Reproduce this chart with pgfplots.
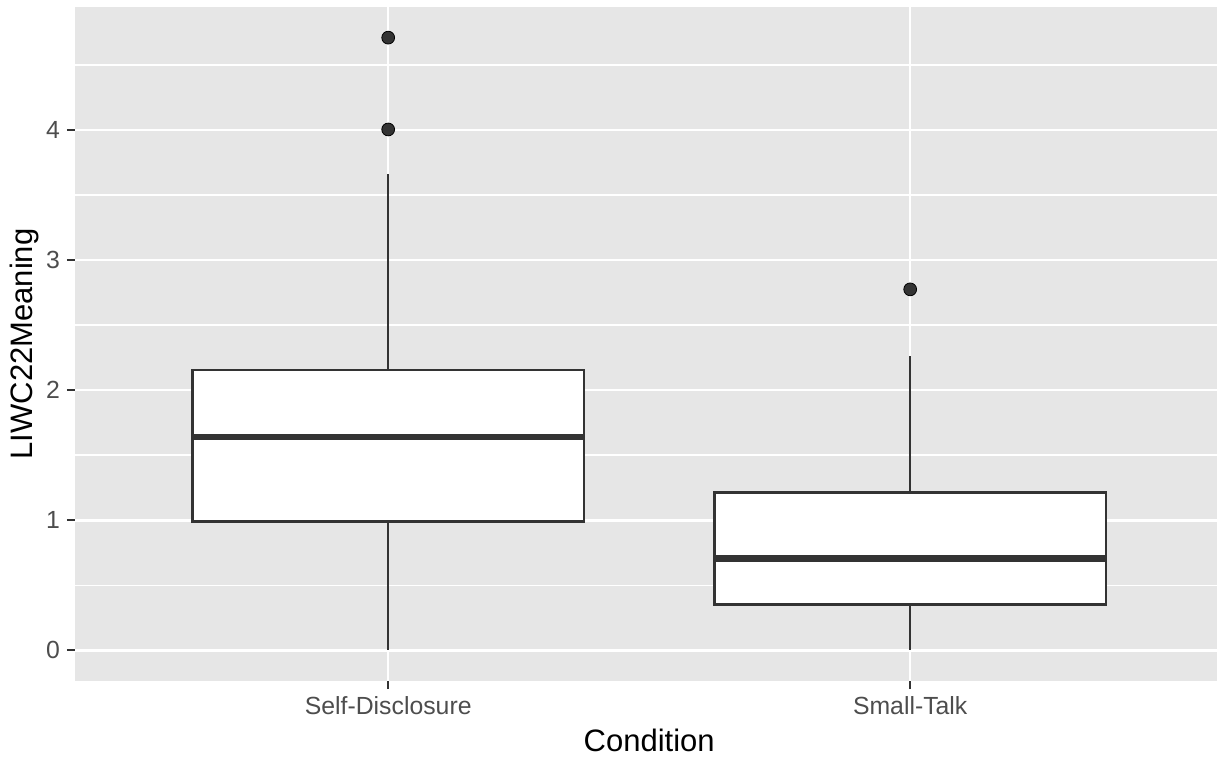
\documentclass[border=0pt]{standalone}
\usepackage{pgfplots}
\pgfplotsset{compat=1.18}
\usepgfplotslibrary{statistics}
\usepackage{fontspec}
\setmainfont{Liberation Sans}
\definecolor{panelbg}{HTML}{E6E6E6}
\definecolor{gtwenty}{HTML}{333333}
\definecolor{gthirty}{HTML}{4D4D4D}
\begin{document}
\begin{tikzpicture}
\useasboundingbox (-37.5pt,-37.5pt) rectangle (571pt,340.5pt);
\begin{axis}[
  at={(0pt,0pt)}, anchor=south west,
  scale only axis,
  width=574.2pt, height=337pt,
  xmin=0.4, xmax=2.6,
  ymin=-0.2355, ymax=4.9455,
  axis x line*=bottom, axis y line*=left,
  axis line style={draw=none},
  axis background/.style={fill=panelbg},
  xtick={1,2},
  xticklabels={Self-Disclosure, Small-Talk},
  ytick={0,1,2,3,4},
  minor ytick={0.5,1.5,2.5,3.5,4.5},
  xmajorgrids, ymajorgrids, yminorgrids,
  major grid style={white, line width=1.3pt},
  minor grid style={white, line width=0.75pt},
  tick align=outside,
  major tick length=4pt,
  minor tick length=0pt,
  tick style={gtwenty, line width=1.1pt},
  /pgf/number format/assume math mode=true,
  tick label style={font=\fontsize{12.4}{14}\selectfont, text=gthirty},
  xlabel={Condition},
  ylabel={LIWC22Meaning},
  label style={font=\fontsize{15.5}{18}\selectfont, text=black},
  x label style={at={(axis description cs:0.5,0)}, anchor=base, yshift=-35pt},
  y label style={at={(axis description cs:0,0.5)}, anchor=base, yshift=21pt},
  boxplot/draw direction=y,
  boxplot/box extend=0.75,
  boxplot/whisker extend=0,
  boxplot/every box/.style={draw=gtwenty, fill=white, line width=1.35pt},
  boxplot/every whisker/.style={draw=gtwenty, line width=1.3pt},
  boxplot/every median/.style={draw=gtwenty, line width=3.2pt},
  clip=false,
]
\addplot[boxplot prepared={draw position=1, lower whisker=0, lower quartile=0.99, median=1.64, upper quartile=2.155, upper whisker=3.66},
  mark=*, mark size=3.2pt, mark options={fill=gtwenty, draw=none}]
  coordinates {(0,4.71) (0,4.004)};
\addplot[boxplot prepared={draw position=2, lower whisker=0, lower quartile=0.352, median=0.705, upper quartile=1.215, upper whisker=2.265},
  mark=*, mark size=3.2pt, mark options={fill=gtwenty, draw=none}]
  coordinates {(0,2.775)};
\end{axis}
\end{tikzpicture}
\end{document}
